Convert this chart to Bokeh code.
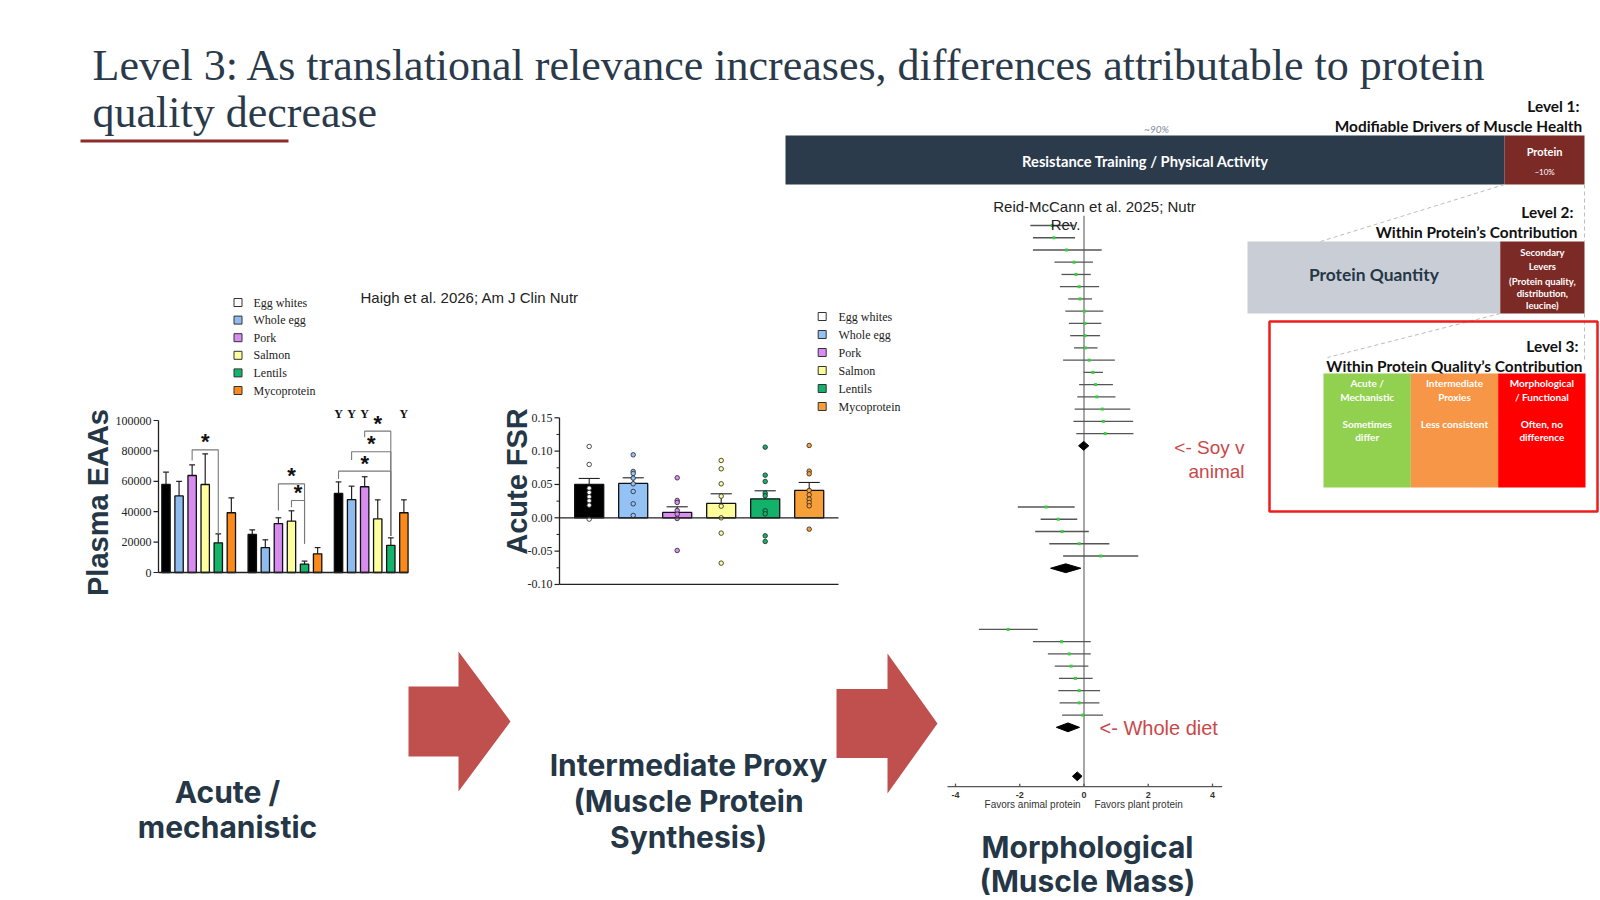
from math import pi
from bokeh.plotting import figure
from bokeh.models import Range1d
from bokeh.core.properties import value
from bokeh.embed import file_html
from bokeh.resources import INLINE

W, H = 1600, 900

# ---------------------------------------------------------------- data
foods = ["Egg whites", "Whole egg", "Pork", "Salmon", "Lentils", "Mycoprotein"]

# Plasma EAAs at three time points: bar means and upper SEM extent
eaa_mean_t1 = [57900, 50400, 63800, 57900, 19500, 39300]
eaa_err_t1 = [8100, 9600, 7000, 20100, 5900, 9800]
eaa_mean_t2 = [25000, 16400, 32200, 33800, 5500, 12300]
eaa_err_t2 = [3000, 5100, 3800, 6800, 2000, 4100]
eaa_mean_t3 = [52000, 48000, 56400, 35300, 17800, 39300]
eaa_err_t3 = [7600, 8800, 6600, 12500, 5000, 8500]
eaa_ticks = [0, 20000, 40000, 60000, 80000, 100000]
eaa_tick_labels = ["0", "20000", "40000", "60000", "80000", "100000"]

# significance brackets: time point, left food, right food, bracket level,
# lower end of left leg, lower end of right leg
eaa_br_time = [0, 1, 1, 2, 2, 2]
eaa_br_left = [2, 2, 3, 2, 1, 0]
eaa_br_right = [4, 4, 4, 4, 4, 4]
eaa_br_level = [80700, 58300, 47400, 93000, 79400, 66700]
eaa_br_left_end = [73700, 40800, 43000, 89000, 74000, 61500]
eaa_br_right_end = [25400, 18900, 18900, 24000, 24000, 24000]
# foods marked with a time-effect symbol at the third time point
eaa_time_marks = [0, 1, 2, 5]

# Acute FSR: bar means, SEM, individual values
fsr_mean = [0.050, 0.0515, 0.008, 0.0215, 0.0285, 0.041]
fsr_sem = [0.009, 0.0085, 0.0085, 0.0145, 0.012, 0.012]
fsr_pts_egg_whites = [0.107, 0.080, 0.0445, 0.038, 0.0315, 0.0255, 0.019, -0.002]
fsr_pts_whole_egg = [0.0945, 0.0695, 0.0665, 0.0595, 0.051, 0.0395, 0.021, 0.0035]
fsr_pts_pork = [0.060, 0.026, 0.023, 0.011, 0.0055, -0.001, -0.049]
fsr_pts_salmon = [0.086, 0.0735, 0.051, 0.0325, 0.0175, 0.0, -0.023, -0.068]
fsr_pts_lentils = [0.106, 0.064, 0.0545, 0.037, 0.033, 0.0105, 0.006, -0.027, -0.0355]
fsr_pts_myco = [0.1085, 0.070, 0.066, 0.041, 0.0345, 0.028, 0.023, 0.018, -0.017]
fsr_ticks = [-0.10, -0.05, 0.00, 0.05, 0.10, 0.15]
fsr_tick_labels = ["-0.10", "-0.05", "0.00", "0.05", "0.10", "0.15"]

# Forest plot (plant vs animal protein), study rows
forest_row = list(range(1, 19)) + list(range(24, 29)) + list(range(34, 42))
forest_est = [-0.99, -0.94, -0.54, -0.31, -0.25, -0.15, -0.125, 0.01, 0.03, 0.03,
              0.04, 0.16, 0.28, 0.36, 0.40, 0.57, 0.60, 0.66,
              -1.18, -0.80, -0.68, -0.15, 0.52,
              -2.36, -0.70, -0.46, -0.40, -0.27, -0.15, -0.15, -0.04]
forest_lo = [-1.67, -1.59, -1.59, -0.92, -0.70, -0.75, -0.49, -0.58, -0.47, -0.43,
             -0.31, -0.65, -0.01, -0.15, -0.21, -0.29, -0.33, -0.24,
             -2.06, -1.35, -1.52, -1.08, -0.65,
             -3.27, -1.59, -1.125, -0.91, -0.78, -0.80, -0.76, -0.68]
forest_hi = [-0.30, -0.28, 0.55, 0.28, 0.21, 0.47, 0.25, 0.60, 0.54, 0.50,
             0.42, 0.96, 0.59, 0.90, 0.98, 1.44, 1.53, 1.54,
             -0.29, -0.21, 0.15, 0.79, 1.69,
             -1.44, 0.21, 0.21, 0.135, 0.27, 0.50, 0.48, 0.59]
pooled_row = [19, 29, 42, 46]
pooled_est = [-0.01, -0.57, -0.50, -0.21]
pooled_half = [0.16, 0.47, 0.36, 0.15]
forest_ticks = [-4, -2, 0, 2, 4]

# Level 1 split of modifiable drivers (%)
level1_share = [90, 10]
level2_share = [75, 25]
level3_labels = [["Acute /", "Mechanistic"], ["Intermediate", "Proxies"],
                 ["Morphological", "/ Functional"]]
level3_notes = [["Sometimes", "differ"], ["Less consistent"], ["Often, no", "difference"]]

# ---------------------------------------------------------------- styling
NAVY = "#253746"
ARROW = "#c0504d"
eaa_colors = ["#000000", "#8fbcef", "#d88cf0", "#ffff9e", "#13b56b", "#fb8a1a"]
fsr_colors = ["#000000", "#94c2f5", "#db8cf5", "#fdfd9a", "#13b26a", "#f7a03a"]
legend_fill = ["#ffffff"] + eaa_colors[1:]
fsr_legend_fill = ["#ffffff"] + fsr_colors[1:]


def span(d0, d1, p0, p1, size, vertical=False):
    """Range that puts data d0 at pixel p0 and d1 at pixel p1 (pixels from left / top)."""
    k = (d1 - d0) / (p1 - p0)
    if vertical:
        return Range1d(start=d0 + (size - p0) * k, end=d0 - p0 * k)
    return Range1d(start=d0 - p0 * k, end=d0 + (size - p0) * k)


p = figure(width=W, height=H, x_range=Range1d(0, W), y_range=Range1d(H, 0),
           output_backend="svg", toolbar_location=None,
           x_axis_location=None, y_axis_location=None, min_border=0)
p.grid.visible = False
p.outline_line_color = None
p.background_fill_color = "white"
p.border_fill_color = "white"

EAA_STEP = 6.6  # slots between time points
p.extra_x_ranges = {
    "eaa": span(0, 1, 165.5, 178.57, W),
    "fsr": span(0, 1, 588.7, 632.7, W),
    "forest": span(0, 4, 1083.5, 1212.0, W),
}
p.extra_y_ranges = {
    "eaa": span(0, 100000, 572, 420, H, vertical=True),
    "fsr": span(0, 0.15, 517.3, 417.3, H, vertical=True),
    "forest": span(1, 46, 225, 775.8, H, vertical=True),
}


def label(x, y, s, size, color=NAVY, font="Liberation Sans", style="normal",
          align="left", baseline="middle", angle=0.0, xr="default", yr="default"):
    p.text(x=[x], y=[y], text=[s], text_font=value(font), text_font_size=f"{size}px",
           text_font_style=style, text_color=color, text_align=align,
           text_baseline=baseline, angle=angle, x_range_name=xr, y_range_name=yr)


# ---------------------------------------------------------------- title
label(92, 65, "Level 3: As translational relevance increases, differences attributable to protein",
      44, color="#2b3a4a", font="Liberation Serif")
label(92, 112, "quality decrease", 44, color="#2b3a4a", font="Liberation Serif")
p.quad(left=[80], right=[288], top=[139], bottom=[142], fill_color="#8e2b2b", line_color=None)

# ---------------------------------------------------------------- Plasma EAAs
eaa_means = [eaa_mean_t1, eaa_mean_t2, eaa_mean_t3]
eaa_errs = [eaa_err_t1, eaa_err_t2, eaa_err_t3]
bx, btop, berr, bcol = [], [], [], []
for g in range(3):
    for i in range(6):
        bx.append(g * EAA_STEP + i)
        btop.append(eaa_means[g][i])
        berr.append(eaa_means[g][i] + eaa_errs[g][i])
        bcol.append(eaa_colors[i])
p.segment(x0=bx, y0=btop, x1=bx, y1=berr, line_color="#222222", line_width=1.2,
          x_range_name="eaa", y_range_name="eaa")
p.segment(x0=[x - 0.22 for x in bx], y0=berr, x1=[x + 0.22 for x in bx], y1=berr,
          line_color="#222222", line_width=1.2, x_range_name="eaa", y_range_name="eaa")
p.vbar(x=bx, top=btop, bottom=0, width=0.64, fill_color=bcol, line_color="#111111",
       line_width=1.3, x_range_name="eaa", y_range_name="eaa")

# axes
p.segment(x0=[158], y0=[0], x1=[158], y1=[100000], line_color="#222222", line_width=1.3,
          y_range_name="eaa")
p.segment(x0=[-0.58], y0=[0], x1=[2 * EAA_STEP + 5.32], y1=[0], line_color="#222222",
          line_width=1.3, x_range_name="eaa", y_range_name="eaa")
p.segment(x0=[153] * len(eaa_ticks), y0=eaa_ticks, x1=[158] * len(eaa_ticks), y1=eaa_ticks,
          line_color="#222222", line_width=1.2, y_range_name="eaa")
p.text(x=[151] * len(eaa_ticks), y=eaa_ticks, text=eaa_tick_labels,
       text_font=value("Liberation Serif"), text_font_size="12px", text_color="#222222",
       text_align="right", text_baseline="middle", y_range_name="eaa")

# significance brackets
for t, a, b, lvl, la, ra in zip(eaa_br_time, eaa_br_left, eaa_br_right, eaa_br_level,
                                 eaa_br_left_end, eaa_br_right_end):
    xa, xb = t * EAA_STEP + a, t * EAA_STEP + b
    p.line(x=[xa, xa, xb, xb], y=[la, lvl, lvl, ra], line_color="#7a7a7a", line_width=1.1,
           x_range_name="eaa", y_range_name="eaa")
    p.text(x=[(xa + xb) / 2], y=[lvl], text=["*"], text_font=value("Liberation Sans"),
           text_font_size="22px", text_font_style="bold", text_color="#111111",
           text_align="center", text_baseline="alphabetic", y_offset=-8,
           x_range_name="eaa", y_range_name="eaa")
p.text(x=[2 * EAA_STEP + i for i in eaa_time_marks], y=[101000] * len(eaa_time_marks),
       text=["Y"] * len(eaa_time_marks), text_font=value("Liberation Serif"),
       text_font_size="12px", text_font_style="bold", text_color="#111111",
       text_align="center", text_baseline="alphabetic", y_offset=-5, x_range_name="eaa",
       y_range_name="eaa")

# legend
ly = [302 + 17.6 * k for k in range(6)]
p.scatter(x=[237.5] * 6, y=ly, marker="square", size=8, fill_color=legend_fill,
          line_color="#333333", line_width=1)
p.text(x=[253] * 6, y=ly, text=foods, text_font=value("Liberation Serif"),
       text_font_size="12px", text_color="#222222", text_baseline="middle")
label(360, 297, "Haigh et al. 2026; Am J Clin Nutr", 15, color="#222222")
label(97, 502, "Plasma EAAs", 29, style="bold", align="center", angle=pi / 2)

# ---------------------------------------------------------------- Acute FSR
fx = list(range(6))
fsr_pts = [fsr_pts_egg_whites, fsr_pts_whole_egg, fsr_pts_pork, fsr_pts_salmon,
           fsr_pts_lentils, fsr_pts_myco]
p.vbar(x=fx, top=fsr_mean, bottom=0, width=0.66, fill_color=fsr_colors,
       line_color="#111111", line_width=1.3, x_range_name="fsr", y_range_name="fsr")
fsr_top = [m + s for m, s in zip(fsr_mean, fsr_sem)]
p.segment(x0=fx, y0=fsr_mean, x1=fx, y1=fsr_top, line_color="#222222", line_width=1.1,
          x_range_name="fsr", y_range_name="fsr")
p.segment(x0=[x - 0.24 for x in fx], y0=fsr_top, x1=[x + 0.24 for x in fx], y1=fsr_top,
          line_color="#222222", line_width=1.1, x_range_name="fsr", y_range_name="fsr")
px, py, pc = [], [], []
for i, pts in enumerate(fsr_pts):
    for v in pts:
        px.append(i)
        py.append(v)
        pc.append(fsr_legend_fill[i])
p.scatter(x=px, y=py, size=4.5, fill_color=pc, line_color="#222222", line_width=0.8,
          x_range_name="fsr", y_range_name="fsr")

p.segment(x0=[559], y0=[-0.10], x1=[559], y1=[0.15], line_color="#222222", line_width=1.3,
          y_range_name="fsr")
p.segment(x0=[559, 559], y0=[0.0, -0.10], x1=[838, 838], y1=[0.0, -0.10],
          line_color="#222222", line_width=1.3, y_range_name="fsr")
p.segment(x0=[554] * 6, y0=fsr_ticks, x1=[559] * 6, y1=fsr_ticks, line_color="#222222",
          line_width=1.2, y_range_name="fsr")
minor = [t + 0.025 for t in fsr_ticks[:-1]]
p.segment(x0=[556] * len(minor), y0=minor, x1=[559] * len(minor), y1=minor,
          line_color="#222222", line_width=1, y_range_name="fsr")
p.text(x=[552] * 6, y=fsr_ticks, text=fsr_tick_labels, text_font=value("Liberation Serif"),
       text_font_size="12px", text_color="#222222", text_align="right",
       text_baseline="middle", y_range_name="fsr")

fly = [316 + 18 * k for k in range(6)]
p.scatter(x=[821.7] * 6, y=fly, marker="square", size=8, fill_color=fsr_legend_fill,
          line_color="#333333", line_width=1)
p.text(x=[838] * 6, y=fly, text=foods, text_font=value("Liberation Serif"),
       text_font_size="12px", text_color="#222222", text_baseline="middle")
label(516, 481, "Acute FSR", 29, style="bold", align="center", angle=pi / 2)

# ---------------------------------------------------------------- forest plot
p.segment(x0=[0], y0=[0.2], x1=[0], y1=[46.85], line_color="#8a8a8a", line_width=1.5,
          x_range_name="forest", y_range_name="forest")
p.segment(x0=forest_lo, y0=forest_row, x1=forest_hi, y1=forest_row, line_color="#555555",
          line_width=1.3, x_range_name="forest", y_range_name="forest")
p.scatter(x=forest_est, y=forest_row, marker="square", size=3, fill_color="#33d13a",
          line_color=None, x_range_name="forest", y_range_name="forest")
dx, dy = [], []
for r, c, h in zip(pooled_row, pooled_est, pooled_half):
    dx.append([c - h, c, c + h, c])
    dy.append([r, r - 0.36, r, r + 0.36])
p.patches(xs=dx, ys=dy, fill_color="#000000", line_color="#000000",
          x_range_name="forest", y_range_name="forest")
p.segment(x0=[-4.25], y0=[46.85], x1=[4.3], y1=[46.85], line_color="#555555",
          line_width=1.3, x_range_name="forest", y_range_name="forest")
p.segment(x0=forest_ticks, y0=[46.6] * 5, x1=forest_ticks, y1=[46.85] * 5,
          line_color="#555555", line_width=1.3, x_range_name="forest", y_range_name="forest")
p.text(x=forest_ticks, y=[794] * 5, text=[str(t) for t in forest_ticks],
       text_font=value("Liberation Sans"), text_font_size="9px", text_font_style="bold",
       text_color="#333333", text_align="center", text_baseline="middle",
       x_range_name="forest")
label(-1.6, 804, "Favors animal protein", 10, color="#333333", align="center", xr="forest")
label(1.7, 804, "Favors plant protein", 10, color="#333333", align="center", xr="forest")
label(1094, 206, "Reid-McCann et al. 2025; Nutr", 15, color="#222222", align="center")
label(1065, 224, "Rev.", 15, color="#222222", align="center")
label(1244, 447, "<- Soy v", 19, color="#c9484a", align="right")
label(1244, 471, "animal", 19, color="#c9484a", align="right")
label(1099, 727, "<- Whole diet", 20, color="#c9484a")

# ---------------------------------------------------------------- arrows & stage labels
def block_arrow(x0, yc, body_len, total_len, body_h, head_h):
    xs = [x0, x0 + body_len, x0 + body_len, x0 + total_len, x0 + body_len,
          x0 + body_len, x0]
    ys = [yc - body_h / 2, yc - body_h / 2, yc - head_h / 2, yc, yc + head_h / 2,
          yc + body_h / 2, yc + body_h / 2]
    p.patch(x=xs, y=ys, fill_color=ARROW, line_color=None)


block_arrow(408, 721, 50, 102, 70, 140)
block_arrow(836, 723, 51, 101, 69, 140)

for txt, y in [("Acute /", 791), ("mechanistic", 826)]:
    label(227, y, txt, 30, font="Inter", style="bold", align="center")
for txt, y in [("Intermediate Proxy", 764), ("(Muscle Protein", 800), ("Synthesis)", 836)]:
    label(688, y, txt, 30, font="Inter", style="bold", align="center")
for txt, y in [("Morphological", 846), ("(Muscle Mass)", 880)]:
    label(1087, y, txt, 30, font="Inter", style="bold", align="center")

# ---------------------------------------------------------------- levels panel
L1_LEFT, L1_RIGHT = 785, 1584
split1 = L1_LEFT + (L1_RIGHT - L1_LEFT) * level1_share[0] / sum(level1_share)
p.quad(left=[L1_LEFT, split1], right=[split1, L1_RIGHT], top=[135, 135], bottom=[184, 184],
       fill_color=["#2b3b4c", "#7b2a26"], line_color=None)
label(1145, 160, "Resistance Training / Physical Activity", 14.7, color="white", font="Lato",
      style="bold", align="center")
label(1156, 128, "~%d%%" % level1_share[0], 10, color="#7f8a9a", font="Lato", style="italic",
      align="center")
label((split1 + L1_RIGHT) / 2, 151, "Protein", 11, color="white", font="Lato", style="bold",
      align="center")
label((split1 + L1_RIGHT) / 2, 171, "~%d%%" % level1_share[1], 8, color="white",
      font="Lato", align="center")
label(1579, 105, "Level 1:", 15.4, color="#111111", font="Lato", style="bold", align="right")
label(1582, 125, "Modifiable Drivers of Muscle Health", 15.4, color="#111111", font="Lato",
      style="bold", align="right")

L2_LEFT, L2_RIGHT = 1247, 1584
split2 = L2_LEFT + (L2_RIGHT - L2_LEFT) * level2_share[0] / sum(level2_share)
p.quad(left=[L2_LEFT, split2], right=[split2, L2_RIGHT], top=[241, 241], bottom=[313, 313],
       fill_color=["#c9ced6", "#7b2a26"], line_color=None)
p.segment(x0=[split1, L1_RIGHT, split2, L2_RIGHT], y0=[184, 184, 313, 313],
          x1=[1320, L1_RIGHT, 1327, L2_RIGHT], y1=[241, 241, 357, 362],
          line_color="#bdbdbd", line_width=1, line_dash="4 3")
label(1573, 211, "Level 2:", 15.4, color="#111111", font="Lato", style="bold", align="right")
label(1577, 231, "Within Protein\u2019s Contribution", 15.4, color="#111111", font="Lato",
      style="bold", align="right")
label((L2_LEFT + split2) / 2, 274, "Protein Quantity", 17.4, color=NAVY, font="Lato",
      style="bold", align="center")
for txt, y in [("Secondary", 252), ("Levers", 266), ("(Protein quality,", 280.5),
               ("distribution,", 293), ("leucine)", 305)]:
    label((split2 + L2_RIGHT) / 2, y, txt, 9.5, color="white", font="Lato", style="bold",
          align="center")

# level 3
p.quad(left=[1269], right=[1597], top=[321], bottom=[511], fill_color=None,
       line_color="#ee1c1c", line_width=2.5)
label(1578, 345, "Level 3:", 15.4, color="#111111", font="Lato", style="bold", align="right")
label(1582, 365, "Within Protein Quality\u2019s Contribution", 15.4, color="#111111",
      font="Lato", style="bold", align="right")
L3_LEFT, L3_RIGHT = 1323, 1585
w3 = (L3_RIGHT - L3_LEFT) / 3
lefts3 = [L3_LEFT + k * w3 for k in range(3)]
p.quad(left=lefts3, right=[l + w3 for l in lefts3], top=[373] * 3, bottom=[487] * 3,
       fill_color=["#92d050", "#f79646", "#ff0000"], line_color=None)
for k in range(3):
    cx = lefts3[k] + w3 / 2
    for j, txt in enumerate(level3_labels[k]):
        label(cx, 382 + 14 * j, txt, 10, color="white", font="Lato", style="bold",
              align="center")
    for j, txt in enumerate(level3_notes[k]):
        label(cx, 423 + 13 * j, txt, 10, color="white", font="Lato", style="bold",
              align="center")

open("out.html", "w").write(file_html(p, INLINE))
